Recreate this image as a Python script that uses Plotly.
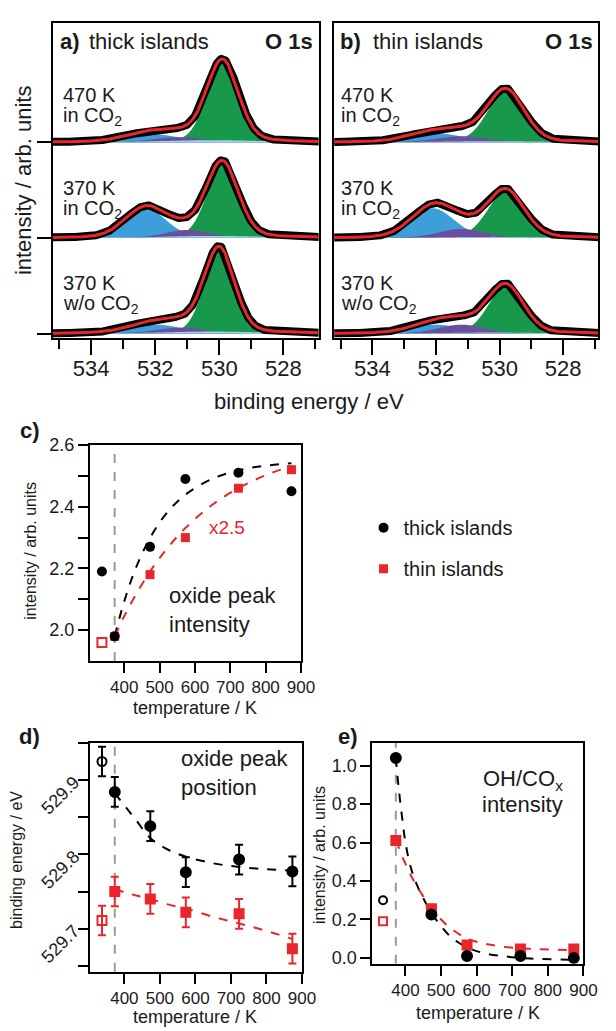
import numpy as np
import plotly.graph_objects as go

W, H = 616, 1031
FONT = "Liberation Sans"
TXT = "#1a1a1a"
RED = "#e8262b"
GREEN = "#17984a"
BLUE = "#3d9fd9"
PURPLE = "#6b4f9e"
LBLUE = "#9fd3f2"
GRAY = "#9a9a9a"

# ---------------- panels a/b : O 1s fit components (center eV, height, FWHM eV)
spec_offsets = [0, 97, 194]            # bottom, middle, top spectrum baselines
spec_line1 = ["370 K", "370 K", "470 K"]
spec_line2 = ["w/o CO<sub>2</sub>", "in CO<sub>2</sub>", "in CO<sub>2</sub>"]

thick_oxide = [(530.0, 84, 1.10), (529.9, 74, 1.15), (529.9, 81, 1.15)]
thick_ohco = [(532.0, 9, 2.0), (532.3, 30, 1.5), (532.1, 8, 2.0)]
thick_mid = [(531.2, 6, 1.8), (531.0, 8, 1.6), (531.3, 5, 1.8)]
thick_bg = [(530.2, 2, 3.5), (530.2, 2, 3.5), (530.2, 2, 3.5)]

thin_oxide = [(529.8, 48, 1.30), (529.8, 47, 1.35), (529.8, 52, 1.35)]
thin_ohco = [(532.0, 9, 1.9), (532.1, 30, 1.6), (532.0, 9, 2.0)]
thin_mid = [(531.2, 9, 1.7), (531.2, 9, 1.7), (531.2, 6, 1.8)]
thin_bg = [(530.2, 1, 3.5), (530.2, 1, 3.5), (530.2, 1, 3.5)]

be_ticks = [534, 532, 530, 528]
be_minor = [535, 533, 531, 529, 527]

# ---------------- panels c/d/e : temperature series
reaction_T = 373
T_main = [373, 473, 573, 723, 873]
T_ref = [337]

c_thick = [1.98, 2.27, 2.49, 2.51, 2.45]
c_thick_ref = [2.19]
c_thin = [1.98, 2.18, 2.30, 2.46, 2.52]
c_thin_ref = [1.96]
c_fit_T = [373, 400, 430, 473, 520, 573, 650, 723, 800, 873]
c_fit_thick = [1.98, 2.093, 2.193, 2.299, 2.379, 2.439, 2.491, 2.518, 2.533, 2.541]
c_fit_thin = [1.98, 2.045, 2.109, 2.190, 2.263, 2.331, 2.407, 2.460, 2.502, 2.532]

d_thick = [529.884, 529.838, 529.776, 529.793, 529.777]
d_thick_ref = [529.925]
d_thin = [529.750, 529.740, 529.722, 529.720, 529.673]
d_thin_ref = [529.711]
d_err = [0.02, 0.02, 0.02, 0.02, 0.02]
d_err_ref = [0.02]
d_fit_T = [373, 400, 430, 473, 520, 573, 650, 723, 800, 873]
d_fit_thick = [529.882, 529.866, 529.848, 529.822, 529.807, 529.797, 529.788, 529.783, 529.780, 529.778]
d_fit_thin = [529.753, 529.749, 529.745, 529.740, 529.733, 529.727, 529.716, 529.707, 529.697, 529.686]

e_thick = [1.04, 0.226, 0.01, 0.01, 0.0]
e_thick_ref = [0.30]
e_thin = [0.61, 0.256, 0.067, 0.046, 0.046]
e_thin_ref = [0.19]
e_fit_T = [373, 380, 390, 400, 415, 430, 450, 473, 500, 530, 573, 620, 680, 750, 873]
e_fit_thick = [1.04, 0.90, 0.74, 0.60, 0.47, 0.39, 0.31, 0.235, 0.165, 0.105, 0.055, 0.025, 0.008, -0.003, -0.01]
e_fit_thin = [0.61, 0.58, 0.53, 0.49, 0.43, 0.38, 0.32, 0.26, 0.20, 0.15, 0.10, 0.075, 0.057, 0.047, 0.04]


def pv(E, c, h, f, eta=0.15):
    s = f / 2.3548
    g = np.exp(-0.5 * ((E - c) / s) ** 2)
    l = 1.0 / (1.0 + (2 * (E - c) / f) ** 2)
    return h * ((1 - eta) * g + eta * l)


def fx(p):
    return p / W


def fy(p):
    return 1 - p / H


fig = go.Figure()
E = np.linspace(526.8, 535.3, 500)

panels = [
    ("x", "y", thick_oxide, thick_ohco, thick_mid, thick_bg),
    ("x2", "y2", thin_oxide, thin_ohco, thin_mid, thin_bg),
]
for xa, ya, ox, oh, mid, bg in panels:
    for i, off in enumerate(spec_offsets):
        comps = [(pv(E, *ox[i]), GREEN), (pv(E, *oh[i]), BLUE),
                 (pv(E, *mid[i]), PURPLE), (pv(E, *bg[i]), LBLUE)]
        total = sum(c for c, _ in comps)
        for comp, col in comps:
            fig.add_trace(go.Scatter(
                x=np.concatenate([E, E[::-1]]),
                y=np.concatenate([off + comp, np.full(E.size, off)]),
                fill="toself", fillcolor=col, mode="none",
                xaxis=xa, yaxis=ya, showlegend=False, hoverinfo="skip"))
        fig.add_trace(go.Scatter(x=E, y=off + total, mode="lines",
                                 line=dict(color="black", width=8),
                                 xaxis=xa, yaxis=ya, showlegend=False))
        fig.add_trace(go.Scatter(x=E, y=off + total, mode="lines",
                                 line=dict(color=RED, width=3),
                                 xaxis=xa, yaxis=ya, showlegend=False))

# ---- panel c
fig.add_trace(go.Scatter(x=c_fit_T, y=c_fit_thick, mode="lines", line_shape="spline",
                         line=dict(color="black", width=2, dash="dash"),
                         xaxis="x3", yaxis="y3", showlegend=False))
fig.add_trace(go.Scatter(x=c_fit_T, y=c_fit_thin, mode="lines", line_shape="spline",
                         line=dict(color=RED, width=2, dash="dash"),
                         xaxis="x3", yaxis="y3", showlegend=False))
fig.add_trace(go.Scatter(x=T_main, y=c_thin, mode="markers", name="thin islands",
                         marker=dict(symbol="square", size=9, color=RED),
                         xaxis="x3", yaxis="y3", legendrank=2, legendgroup="b"))
fig.add_trace(go.Scatter(x=T_ref, y=c_thin_ref, mode="markers",
                         marker=dict(symbol="square-open", size=9, color=RED, line=dict(width=2)),
                         xaxis="x3", yaxis="y3", showlegend=False))
fig.add_trace(go.Scatter(x=T_main, y=c_thick, mode="markers", name="thick islands",
                         marker=dict(symbol="circle", size=10, color="black"),
                         xaxis="x3", yaxis="y3", legendrank=1, legendgroup="a"))
fig.add_trace(go.Scatter(x=T_ref, y=c_thick_ref, mode="markers",
                         marker=dict(symbol="circle", size=10, color="black"),
                         xaxis="x3", yaxis="y3", showlegend=False))

# ---- panel d
fig.add_trace(go.Scatter(x=d_fit_T, y=d_fit_thick, mode="lines", line_shape="spline",
                         line=dict(color="black", width=2, dash="dash"),
                         xaxis="x4", yaxis="y4", showlegend=False))
fig.add_trace(go.Scatter(x=d_fit_T, y=d_fit_thin, mode="lines", line_shape="spline",
                         line=dict(color=RED, width=2, dash="dash"),
                         xaxis="x4", yaxis="y4", showlegend=False))
for xs, ys, err, sym, col, sz in [
    (T_main, d_thick, d_err, "circle", "black", 10),
    (T_ref, d_thick_ref, d_err_ref, "circle-open", "black", 9),
    (T_main, d_thin, d_err, "square", RED, 9),
    (T_ref, d_thin_ref, d_err_ref, "square-open", RED, 9),
]:
    fig.add_trace(go.Scatter(
        x=xs, y=ys, mode="markers",
        marker=dict(symbol=sym, size=sz, color=col, line=dict(width=2, color=col)),
        error_y=dict(type="data", array=err, thickness=2, width=4, color=col),
        xaxis="x4", yaxis="y4", showlegend=False))

# ---- panel e
fig.add_trace(go.Scatter(x=e_fit_T, y=e_fit_thick, mode="lines", line_shape="spline",
                         line=dict(color="black", width=2, dash="dash"),
                         xaxis="x5", yaxis="y5", showlegend=False))
fig.add_trace(go.Scatter(x=e_fit_T, y=e_fit_thin, mode="lines", line_shape="spline",
                         line=dict(color=RED, width=2, dash="dash"),
                         xaxis="x5", yaxis="y5", showlegend=False))
for xs, ys, sym, col, sz in [
    (T_main, e_thin, "square", RED, 9),
    (T_ref, e_thin_ref, "square-open", RED, 8),
    (T_main, e_thick, "circle", "black", 10),
    (T_ref, e_thick_ref, "circle-open", "black", 8),
]:
    fig.add_trace(go.Scatter(
        x=xs, y=ys, mode="markers",
        marker=dict(symbol=sym, size=sz, color=col, line=dict(width=2, color=col)),
        xaxis="x5", yaxis="y5", showlegend=False))

# ---- reaction temperature guide lines
for n in (3, 4, 5):
    fig.add_shape(type="line", xref=f"x{n}", yref=f"y{n} domain",
                  x0=reaction_T, x1=reaction_T, y0=0, y1=1,
                  line=dict(color=GRAY, width=2, dash="dash"), layer="below")

base = dict(showline=True, linecolor="black", linewidth=2, mirror=True,
            ticks="outside", tickcolor="black", tickwidth=2, showgrid=False,
            zeroline=False, tickfont=dict(family=FONT, size=18, color=TXT))
minor_style = dict(ticks="outside", tickcolor="black", tickwidth=2)
T_font = dict(family=FONT, size=17, color=TXT)

be_axis = dict(base, range=[535.2, 526.9], tickmode="array", tickvals=be_ticks,
               ticklen=15, tickfont=dict(family=FONT, size=22, color=TXT),
               minor=dict(minor_style, tickvals=be_minor, ticklen=9),
               ticklabelstandoff=-6)
T_ticks = [400, 500, 600, 700, 800, 900]

fig.update_layout(
    width=W, height=H, margin=dict(l=0, r=0, t=0, b=0),
    paper_bgcolor="white", plot_bgcolor="white",
    font=dict(family=FONT, color=TXT),
    xaxis=dict(be_axis, domain=[fx(54), fx(326)], anchor="y"),
    yaxis=dict(base, domain=[fy(333), fy(13)], range=[-5, 315], tickmode="array",
               tickvals=spec_offsets, showticklabels=False, ticklen=14, anchor="x"),
    xaxis2=dict(be_axis, domain=[fx(342), fx(612)], anchor="y2"),
    yaxis2=dict(base, domain=[fy(333), fy(13)], range=[-5, 315], ticks="",
                showticklabels=False, anchor="x2"),
    xaxis3=dict(base, domain=[fx(92), fx(308)], range=[303, 900], tickmode="array",
                tickvals=T_ticks, ticklen=10, tickfont=T_font, anchor="y3"),
    yaxis3=dict(base, domain=[fy(660), fy(441)], range=[1.9, 2.6], tickmode="array",
                tickvals=[2.0, 2.2, 2.4, 2.6], ticktext=["2.0", "2.2", "2.4", "2.6"],
                ticklen=10, minor=dict(minor_style, tickvals=[2.1, 2.3, 2.5], ticklen=10),
                anchor="x3"),
    xaxis4=dict(base, domain=[fx(92), fx(309)], range=[303, 900], tickmode="array",
                tickvals=T_ticks, ticklen=10, tickfont=T_font, anchor="y4"),
    yaxis4=dict(base, domain=[fy(975), fy(743)], range=[529.642, 529.950], tickmode="array",
                tickvals=[529.7, 529.8, 529.9], ticklen=10, tickangle=-45,
                minor=dict(minor_style, tickvals=[529.65, 529.75, 529.85, 529.95], ticklen=10),
                anchor="x4"),
    xaxis5=dict(base, domain=[fx(381), fx(597)], range=[307, 900], tickmode="array",
                tickvals=T_ticks, ticklen=10, tickfont=T_font, anchor="y5"),
    yaxis5=dict(base, domain=[fy(967), fy(743)], range=[-0.031, 1.118], tickmode="array",
                tickvals=[0, 0.2, 0.4, 0.6, 0.8, 1.0],
                ticktext=["0.0", "0.2", "0.4", "0.6", "0.8", "1.0"], ticklen=10,
                anchor="x5"),
    legend=dict(x=fx(372), y=fy(505), xanchor="left", yanchor="top",
                font=dict(family=FONT, size=20, color=TXT), tracegroupgap=12,
                bgcolor="rgba(0,0,0,0)", itemsizing="trace"),
)


def ann(text, x, y, size=20, xanchor="left", yanchor="middle", color=TXT, angle=0):
    fig.add_annotation(text=text, x=fx(x), y=fy(y), xref="paper", yref="paper",
                       xanchor=xanchor, yanchor=yanchor, showarrow=False,
                       textangle=angle, font=dict(family=FONT, size=size, color=color))


# panel a/b headers
ann("<b>a)</b>", 59, 32, size=22)
ann("thick islands", 89, 32, size=22)
ann("<b>O 1s</b>", 322, 32, size=22, xanchor="right")
ann("<b>b)</b>", 346, 32, size=22)
ann("thin islands", 380, 32, size=22)
ann("<b>O 1s</b>", 609, 32, size=22, xanchor="right")

line1_y = [277, 180, 86]
line2_y = [299, 202, 108]
for i in range(3):
    ann(spec_line1[i], 62, line1_y[i], size=20)
    ann(spec_line2[i], 62, line2_y[i], size=20)
    ann(spec_line1[i], 347, line1_y[i], size=20)
    ann(spec_line2[i], 347, line2_y[i], size=20)

ann("binding energy / eV", 316, 397, size=22, xanchor="center")
ann("intensity / arb. units", 24, 172, size=22, xanchor="center", angle=-90)

# panel c
ann("<b>c)</b>", 18, 426, size=22)
ann("x2.5", 212, 525, size=19, color=RED)
ann("oxide peak", 171, 594, size=22)
ann("intensity", 171, 623, size=22)
ann("intensity / arb. units", 31, 548, size=16, xanchor="center", angle=-90)
ann("temperature / K", 200, 708, size=18, xanchor="center")

# panel d
ann("<b>d)</b>", 17, 736, size=22)
ann("oxide peak", 183, 759, size=22)
ann("position", 183, 788, size=22)
ann("binding energy / eV", 17, 862, size=16, xanchor="center", angle=-90)
ann("temperature / K", 200, 1021, size=18, xanchor="center")

# panel e
ann("<b>e)</b>", 344, 736, size=22)
ann("OH/CO<sub>x</sub>", 578, 781, size=22, xanchor="right")
ann("intensity", 578, 805, size=22, xanchor="right")
ann("intensity / arb. units", 327, 857, size=16, xanchor="center", angle=-90)
ann("temperature / K", 489, 1017, size=18, xanchor="center")

fig.write_html("out.html", config={"displayModeBar": False},
               post_script="document.body.style.margin='0';document.body.style.overflow='hidden';")
